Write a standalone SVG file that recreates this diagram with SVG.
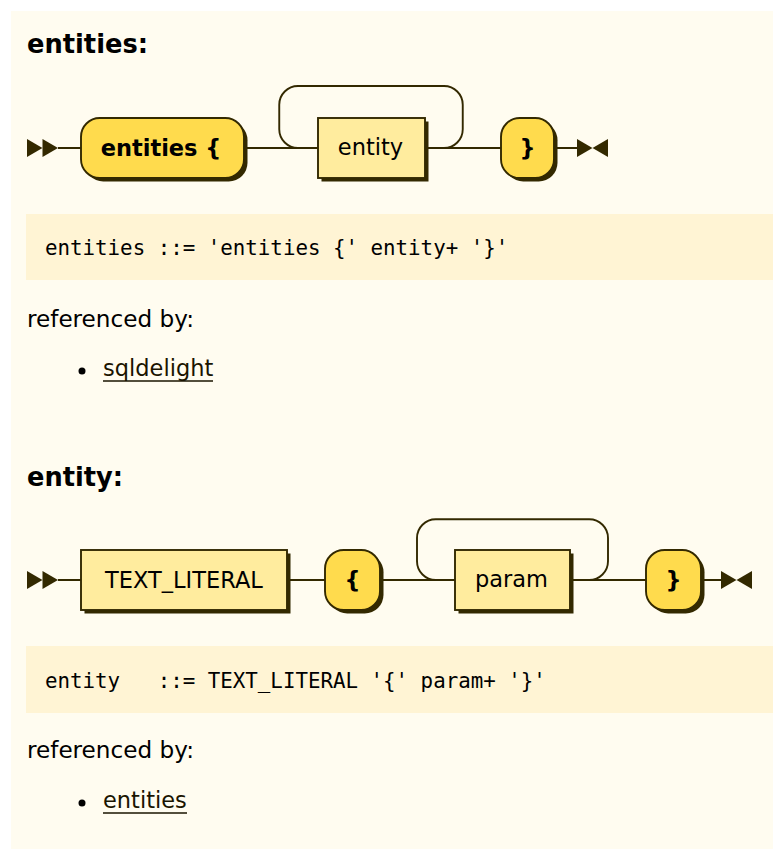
<svg xmlns="http://www.w3.org/2000/svg" width="773" height="849" viewBox="0 0 773 849">
<style>
  .panel { fill: #FFFCF0; }
  .code-bg { fill: #FFF4D4; }
  .terminal { fill: #FFDB4D; stroke: #332900; stroke-width: 1.9; }
  .nonterminal { fill: #FFEC9E; stroke: #332900; stroke-width: 1.9; }
  .shadow { fill: #332900; }
  .line { fill: none; stroke: #332900; stroke-width: 1.9; }
  .arrow { fill: #332900; }
  .head { font-family: "DejaVu Sans", Verdana, sans-serif; font-weight: bold; font-size: 26px; fill: #000; }
  .body { font-family: "DejaVu Sans", Verdana, sans-serif; font-size: 23px; fill: #000; }
  .link { font-family: "DejaVu Sans", Verdana, sans-serif; font-size: 22.5px; fill: #1A1400; }
  .code { font-family: "DejaVu Sans Mono", "Liberation Mono", monospace; font-size: 20.8px; fill: #000; }
  .tt { font-family: "DejaVu Sans", Verdana, sans-serif; font-weight: bold; font-size: 22.5px; fill: #000; text-anchor: middle; }
  .nt { font-family: "DejaVu Sans", Verdana, sans-serif; font-size: 22.5px; fill: #000; text-anchor: middle; }
  .ul { stroke: #1A1400; stroke-width: 1.6; }
</style>
<rect x="0" y="0" width="773" height="849" fill="#FFFFFF"/>
<rect class="panel" x="11" y="11" width="762" height="838"/>

<!-- Section 1 -->
<text class="head" x="27" y="53" textLength="121" lengthAdjust="spacingAndGlyphs">entities:</text>

<g id="connectors">
  <!-- diagram 1 -->
  <polygon class="arrow" points="27,139 27,157 42.5,148"/>
  <polygon class="arrow" points="42.5,139 42.5,157 58,148"/>
  <path class="line" d="M58 148 H81 M244 148 H318 M425 148 H501 M554 148 H577"/>
  <path class="line" d="M444 148 a18.75 18.75 0 0 0 18.75 -18.75 V104.75 a18.75 18.75 0 0 0 -18.75 -18.75 H298 a18.75 18.75 0 0 0 -18.75 18.75 V129.25 a18.75 18.75 0 0 0 18.75 18.75"/>
  <polygon class="arrow" points="577,139 577,157 592.5,148"/>
  <polygon class="arrow" points="608,139 608,157 592.5,148"/>
  <!-- diagram 2 -->
  <polygon class="arrow" points="27,571 27,589 42.5,580"/>
  <polygon class="arrow" points="42.5,571 42.5,589 58,580"/>
  <path class="line" d="M58 580 H81 M287 580 H325 M380 580 H455 M570 580 H646 M701 580 H721"/>
  <path class="line" d="M589.25 580 a18.75 18.75 0 0 0 18.75 -18.75 V538 a18.75 18.75 0 0 0 -18.75 -18.75 H435.75 a18.75 18.75 0 0 0 -18.75 18.75 V561.25 a18.75 18.75 0 0 0 18.75 18.75"/>
  <polygon class="arrow" points="721,571 721,589 736.5,580"/>
  <polygon class="arrow" points="752,571 752,589 736.5,580"/>
</g>

<g id="node-entities-open">
  <rect class="shadow" x="84.5" y="121.5" width="163" height="60" rx="18.75"/>
  <rect class="terminal" x="81" y="118" width="163" height="60" rx="18.75"/>
  <text class="tt" x="161" y="155.5">entities {</text>
</g>
<g id="node-entity">
  <rect class="shadow" x="321.5" y="121.5" width="107" height="60"/>
  <rect class="nonterminal" x="318" y="118" width="107" height="60"/>
  <text class="nt" x="370.5" y="155">entity</text>
</g>
<g id="node-close-1">
  <rect class="shadow" x="504.5" y="121.5" width="53" height="60" rx="18.75"/>
  <rect class="terminal" x="501" y="118" width="53" height="60" rx="18.75"/>
  <text class="tt" x="527.5" y="155.5">}</text>
</g>

<rect class="code-bg" x="26" y="214" width="747" height="66"/>
<text class="code" x="45" y="255" xml:space="preserve">entities ::= 'entities {' entity+ '}'</text>
<text class="body" x="27" y="327" textLength="167" lengthAdjust="spacingAndGlyphs">referenced by:</text>
<circle cx="82" cy="371" r="3.5" fill="#000"/>
<text class="link" x="103" y="376">sqldelight</text>
<line class="ul" x1="103" y1="381" x2="213" y2="381"/>

<!-- Section 2 -->
<text class="head" x="27" y="486" textLength="96" lengthAdjust="spacingAndGlyphs">entity:</text>

<g id="node-text-literal">
  <rect class="shadow" x="84.5" y="553.5" width="206" height="60"/>
  <rect class="nonterminal" x="81" y="550" width="206" height="60"/>
  <text class="nt" x="184" y="587.5">TEXT_LITERAL</text>
</g>
<g id="node-open-2">
  <rect class="shadow" x="328.5" y="553.5" width="55" height="60" rx="18.75"/>
  <rect class="terminal" x="325" y="550" width="55" height="60" rx="18.75"/>
  <text class="tt" x="352.5" y="587.5">{</text>
</g>
<g id="node-param">
  <rect class="shadow" x="458.5" y="553.5" width="115" height="60"/>
  <rect class="nonterminal" x="455" y="550" width="115" height="60"/>
  <text class="nt" x="511.5" y="587">param</text>
</g>
<g id="node-close-2">
  <rect class="shadow" x="649.5" y="553.5" width="55" height="60" rx="18.75"/>
  <rect class="terminal" x="646" y="550" width="55" height="60" rx="18.75"/>
  <text class="tt" x="673.5" y="587.5">}</text>
</g>

<rect class="code-bg" x="26" y="646" width="747" height="67"/>
<text class="code" x="45" y="688" xml:space="preserve">entity   ::= TEXT_LITERAL '{' param+ '}'</text>
<text class="body" x="27" y="758" textLength="167" lengthAdjust="spacingAndGlyphs">referenced by:</text>
<circle cx="82" cy="803" r="3.5" fill="#000"/>
<text class="link" x="103" y="808">entities</text>
<line class="ul" x1="103" y1="813" x2="187" y2="813"/>
</svg>
